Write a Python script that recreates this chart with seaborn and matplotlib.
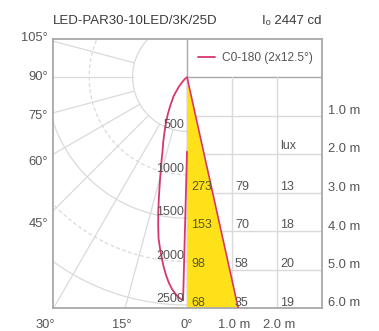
import numpy as np
import pandas as pd
import matplotlib
matplotlib.use("Agg")
import matplotlib.pyplot as plt
import seaborn as sns

# ---------------- data ----------------
title = "LED-PAR30-10LED/3K/25D"
peak_label = "Iₒ 2447 cd"
series_name = "C0-180 (2x12.5°)"
beam_half_angle = 12.5

curve_angle = [0, 1, 2, 3, 4, 5, 6, 7, 8, 9, 10, 11, 12, 13, 14, 15, 16, 17, 18,
               20, 22, 25, 27.5, 30, 35, 40, 45, 50, 60, 90]
curve_cd = [2447, 2440, 2415, 2375, 2325, 2260, 2180, 2090, 1990, 1890, 1790,
            1650, 1510, 1370, 1240, 1130, 1030, 950, 870, 760, 660, 540, 450,
            370, 255, 140, 55, 15, 0, 0]

ring_values = [500, 1000, 1500, 2000, 2500]
ring_dashed = [False, True, False, True, False]
spoke_angles = [15, 30, 45, 60, 75, 90, 105]
angle_labels_left = [45, 60, 75, 90, 105]
angle_labels_bottom = [30, 15, 0]

distances = [1, 2, 3, 4, 5, 6]
distance_labels = ["1.0 m", "2.0 m", "3.0 m", "4.0 m", "5.0 m", "6.0 m"]
width_ticks = [1, 2]
width_labels = ["1.0 m", "2.0 m"]
lux_rows = [3, 4, 5, 6]
lux_center = [273, 153, 98, 68]
lux_col2 = [79, 70, 58, 35]
lux_col3 = [13, 18, 20, 19]
unit_label = "lux"

# ---------------- scales (drawing units) ----------------
CURVE_K = 224.0 / 2447.0      # radius per cd for the curve
RING_R0, RING_K = 11.0, 0.0868  # ring radius offset / per cd
PX_PER_M = 38.5               # distance rows
COL_W = 45.0                  # width columns

RED = "#d9366b"
YELLOW = "#ffe11a"
GRID = "#dadada"
FRAME = "#a8a8a8"
TXT = "#555555"

sns.set_theme(style="white")
plt.rcParams["font.family"] = ["Liberation Sans", "DejaVu Sans"]

fig = plt.figure(figsize=(3.79, 3.31), dpi=100)
W, H = 379, 331
ax = fig.add_axes([53 / W, 23 / H, 269 / W, 269 / H])
ax.set_xlim(-134, 135)
ax.set_ylim(231, -38)
ax.set_xticks([])
ax.set_yticks([])
for s in ax.spines.values():
    s.set_color(FRAME)
    s.set_linewidth(1.3)

# polar rings (left half)
th = np.radians(np.linspace(0, 180, 200))
for val, dash in zip(ring_values, ring_dashed):
    r = RING_R0 + RING_K * val
    ax.plot(-r * np.sin(th), r * np.cos(th), color=GRID, lw=0.9,
            ls=(0, (3, 2)) if dash else "-", zorder=1)
# spokes
r_in = RING_R0 + RING_K * ring_values[0]
for a in spoke_angles:
    t = np.radians(a)
    ax.plot([-r_in * np.sin(t), -400 * np.sin(t)], [r_in * np.cos(t), 400 * np.cos(t)],
            color=GRID, lw=0.9, zorder=1)

# table grid (right half)
ax.plot([0, 0], [-38, 231], color=FRAME, lw=1.0, zorder=1)
ax.plot([0, 135], [0, 0], color=FRAME, lw=1.0, zorder=1)
for d in distances[:-1]:
    ax.plot([0, 135], [d * PX_PER_M] * 2, color=GRID, lw=1.0, zorder=1)
for w in width_ticks:
    ax.plot([w * COL_W] * 2, [0, 231], color=GRID, lw=1.0, zorder=1)

# beam cone
y_end = distances[-1] * PX_PER_M
x_end = y_end * np.tan(np.radians(beam_half_angle))
ax.fill([0, x_end, 0], [0, y_end, y_end], color=YELLOW, lw=0, zorder=2)
ax.plot([0, x_end], [0, y_end], color=RED, lw=1.2, zorder=3)

# polar curve
ang = np.radians(np.array(curve_angle, dtype=float))
rr = CURVE_K * np.array(curve_cd, dtype=float)
df = pd.DataFrame({"x": -rr * np.sin(ang), "y": rr * np.cos(ang)})
sns.lineplot(data=df, x="x", y="y", sort=False, color=RED, lw=1.3,
             label=series_name, ax=ax, zorder=4)
ax.set_xlabel("")
ax.set_ylabel("")
leg = ax.legend(loc="center", bbox_to_anchor=(0.752, 0.929), frameon=False,
                fontsize=8.6, handlelength=1.4, handletextpad=0.6)
for t in leg.get_texts():
    t.set_color(TXT)

# ring labels
for val in ring_values:
    r = RING_R0 + RING_K * val
    ax.text(-3, r - 6, f"{val}", ha="right", va="center", fontsize=9,
            color=TXT, zorder=5)

# lux table text
for d, a, b, c in zip(lux_rows, lux_center, lux_col2, lux_col3):
    y = d * PX_PER_M - 5.5
    ax.text(4, y, f"{a}", ha="left", va="center", fontsize=9, color="#5a5530", zorder=5)
    ax.text(48, y, f"{b}", ha="left", va="center", fontsize=9, color=TXT, zorder=5)
    ax.text(93, y, f"{c}", ha="left", va="center", fontsize=9, color=TXT, zorder=5)
ax.text(93, 2 * PX_PER_M - 8, unit_label, ha="left", va="center", fontsize=9, color=TXT)

# right distance labels
for d, lab in zip(distances, distance_labels):
    ax.text(141, d * PX_PER_M - 4.5, lab, ha="left", va="center", fontsize=9.3,
            color=TXT, clip_on=False)
# bottom width labels
for w, lab in zip(width_ticks, width_labels):
    ax.text(w * COL_W + 2, 248, lab, ha="center", va="center", fontsize=9.3,
            color=TXT, clip_on=False)

# angle labels
for a in angle_labels_left:
    t = np.radians(a)
    y = 147 / np.tan(t)
    ax.text(-139, y, f"{a}°", ha="right", va="center", fontsize=9.3, color=TXT,
            clip_on=False)
for a in angle_labels_bottom:
    t = np.radians(a)
    x = -245 * np.tan(t)
    ax.text(x, 248, f"{a}°", ha="center", va="center", fontsize=9.3, color=TXT,
            clip_on=False)

fig.text(53 / W, 1 - 21 / H, title, ha="left", va="center", fontsize=9.5, color="#3a3a3a")
fig.text(322 / W, 1 - 21 / H, peak_label, ha="right", va="center", fontsize=9.5,
         color="#3a3a3a")

fig.savefig("out.png", dpi=100)
